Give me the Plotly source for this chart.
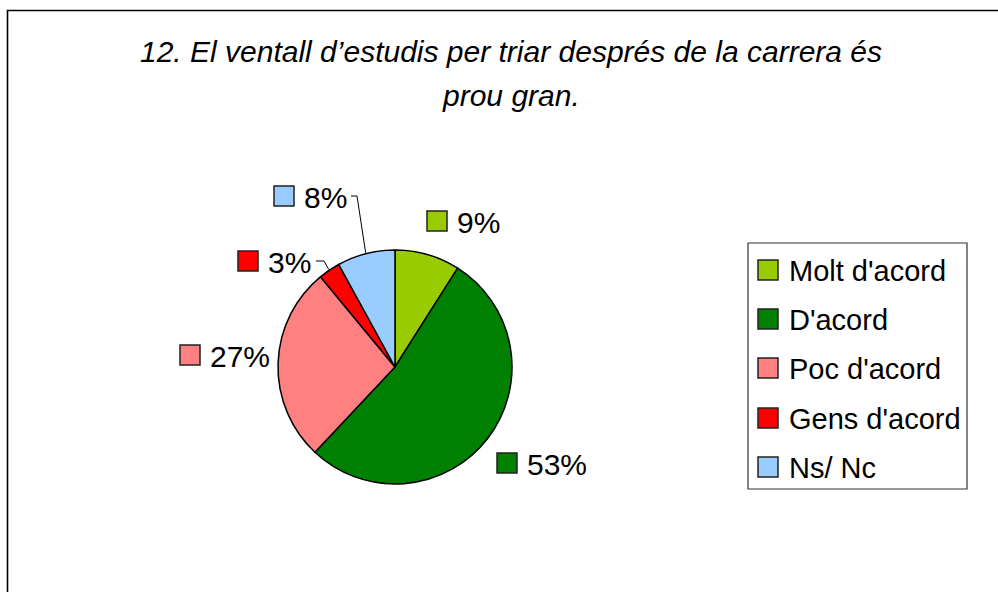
import math
import plotly.graph_objects as go

# ---- data ----
categories = ["Molt d'acord", "D'acord", "Poc d'acord", "Gens d'acord", "Ns/ Nc"]
values = [9, 53, 27, 3, 8]
colors = ["#99CC00", "#008000", "#FF8080", "#FF0000", "#99CCFF"]
title_lines = ["12. El ventall d\u2019estudis per triar després de la carrera és", "prou gran."]

# ---- layout (pixels) ----
W, H = 998, 592
CX, CY, R = 395, 367, 117
FONT = "Liberation Sans, Arial, sans-serif"
FS = 30
LEG_FS = 29
title_y = [51, 95]
# label anchors: left edge of colour key, vertical centre
label_pos = [(427, 221), (497, 463), (180, 355), (238, 261), (274, 196)]
# leader lines: index -> (start x, elbow x)
leaders = {4: (351, 357), 3: (316, 324)}
legend_box = (748, 243, 967, 489)
legend_y = [270, 319, 368, 418, 467]
legend_key_x = 758
KEY = 20


def px(x):
    return x / W


def py(y):
    return 1 - y / H


fig = go.Figure(go.Pie(
    labels=categories, values=values, sort=False, direction="clockwise", rotation=0,
    marker=dict(colors=colors, line=dict(color="black", width=1.5)),
    textinfo="none", hoverinfo="label+percent", showlegend=False,
    domain=dict(x=[px(CX - R), px(CX + R)], y=[py(CY + R), py(CY - R)]),
))

shapes = []
annotations = []

# outer frame
shapes.append(dict(type="rect", xref="paper", yref="paper", x0=px(7.5), x1=1.05,
                   y0=-0.05, y1=py(10.5), line=dict(color="black", width=1.6)))

# title
for line, ty in zip(title_lines, title_y):
    annotations.append(dict(
        xref="paper", yref="paper", x=px(511), y=py(ty), xanchor="center", yanchor="middle",
        text="<i>" + line + "</i>", showarrow=False,
        font=dict(family=FONT, size=FS, color="black")))

total = sum(values)
cum = 0
for i, v in enumerate(values):
    mid = (cum + v / 2) / total * 2 * math.pi
    cum += v
    pct = f"{round(v / total * 100)}%"
    lx, ly = label_pos[i]
    shapes.append(dict(type="rect", xref="paper", yref="paper",
                       x0=px(lx), x1=px(lx + KEY), y0=py(ly + KEY / 2), y1=py(ly - KEY / 2),
                       fillcolor=colors[i], line=dict(color="#222", width=1.5)))
    annotations.append(dict(xref="paper", yref="paper", x=px(lx + KEY + 8), y=py(ly + 1),
                            xanchor="left", yanchor="middle", text=pct, showarrow=False,
                            font=dict(family=FONT, size=FS, color="black")))
    if i in leaders:
        sx, ex = leaders[i]
        ax = CX + (R + 1) * math.sin(mid)
        ay = CY - (R + 1) * math.cos(mid)
        path = f"M {px(sx)} {py(ly)} L {px(ex)} {py(ly)} L {px(ax)} {py(ay)}"
        shapes.append(dict(type="path", xref="paper", yref="paper", path=path,
                           line=dict(color="black", width=1)))

# legend
x0, y0, x1, y1 = legend_box
shapes.append(dict(type="rect", xref="paper", yref="paper", x0=px(x0), x1=px(x1),
                   y0=py(y1), y1=py(y0), line=dict(color="#333", width=1.2)))
for i, name in enumerate(categories):
    ly = legend_y[i]
    shapes.append(dict(type="rect", xref="paper", yref="paper",
                       x0=px(legend_key_x), x1=px(legend_key_x + KEY),
                       y0=py(ly + KEY / 2), y1=py(ly - KEY / 2),
                       fillcolor=colors[i], line=dict(color="#222", width=1.5)))
    annotations.append(dict(xref="paper", yref="paper", x=px(legend_key_x + KEY + 9), y=py(ly + 1),
                            xanchor="left", yanchor="middle", text=name, showarrow=False,
                            font=dict(family=FONT, size=LEG_FS, color="black")))

fig.update_layout(
    width=W, height=H, margin=dict(l=0, r=0, t=0, b=0),
    paper_bgcolor="white", plot_bgcolor="white",
    shapes=shapes, annotations=annotations,
)
fig.write_html("out.html", config={"displayModeBar": False},
               post_script="document.body.style.margin='0';document.body.style.overflow='hidden';")
